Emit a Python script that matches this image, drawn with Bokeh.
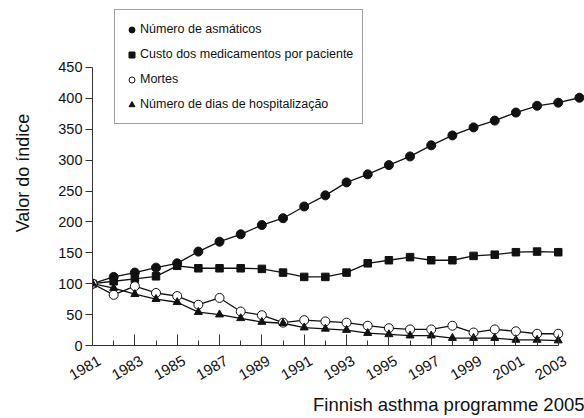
import math
from bokeh.plotting import figure
from bokeh.models import Range1d, FixedTicker, Legend, LegendItem, Title, LinearAxis
from bokeh.embed import file_html
from bokeh.resources import INLINE

# ---- data ----
years = list(range(1981, 2004))
years_asthmatics = list(range(1981, 2005))
asthmatics = [100, 111, 118, 126, 133, 152, 168, 180, 195, 206, 225, 243, 264, 277,
              292, 306, 324, 340, 353, 364, 377, 388, 393, 401]
cost = [100, 104, 108, 112, 129, 125, 125, 125, 124, 118, 111, 111, 118, 133, 138,
        143, 138, 138, 145, 147, 151, 152, 151]
deaths = [100, 82, 96, 85, 80, 66, 77, 55, 49, 37, 41, 39, 37, 32, 28, 26, 26, 32,
          21, 26, 23, 19, 19]
hospital_days = [100, 93, 83, 75, 70, 54, 50, 44, 38, 36, 29, 27, 25, 20, 18, 16, 16,
                 12, 12, 12, 9, 9, 8]
x_major = [1981, 1983, 1985, 1987, 1989, 1991, 1993, 1995, 1997, 1999, 2001, 2003]
x_minor = [1982, 1984, 1986, 1988, 1990, 1992, 1994, 1996, 1998, 2000, 2002]
y_ticks = [0, 50, 100, 150, 200, 250, 300, 350, 400, 450]
labels = ["Número de asmáticos", "Custo dos medicamentos por paciente", "Mortes",
          "Número de dias de hospitalização"]

FONT = "Liberation Sans"
INK = "#111111"
X0, X1 = 1981, 2004.24
LABEL_SHIFT = 0.33   # tick labels sit slightly right of their ticks, as in the source

p = figure(width=584, height=418, output_backend="svg", toolbar_location=None,
           x_range=Range1d(X0, X1), y_range=Range1d(0, 558.4),
           min_border_left=92, min_border_right=0, min_border_top=0,
           min_border_bottom=73)
p.outline_line_color = None
p.grid.visible = False
p.background_fill_color = "white"
p.extra_x_ranges = {"labels": Range1d(X0 - LABEL_SHIFT, X1 - LABEL_SHIFT)}

# x axis: line + inward ticks, no labels
xa = p.xaxis[0]
xa.ticker = FixedTicker(ticks=x_major, minor_ticks=x_minor)
xa.bounds = (1981, 2003)
xa.major_tick_in = 11
xa.major_tick_out = 0
xa.minor_tick_in = 5
xa.minor_tick_out = 0
xa.major_label_standoff = 0
xa.major_label_overrides = {y: "" for y in x_major}
xa.axis_line_color = "#333333"
xa.major_tick_line_color = "#333333"
xa.minor_tick_line_color = "#333333"

# x tick labels (rotated)
xl = LinearAxis(x_range_name="labels", ticker=FixedTicker(ticks=x_major))
xl.axis_line_color = None
xl.major_tick_line_color = None
xl.minor_tick_line_color = None
xl.major_tick_in = 0
xl.major_tick_out = 0
xl.major_label_orientation = math.pi / 6
xl.major_label_standoff = 14
xl.major_label_text_font = FONT
xl.major_label_text_font_size = "15px"
xl.major_label_text_color = INK
p.add_layout(xl, "below")

ya = p.yaxis[0]
ya.ticker = FixedTicker(ticks=y_ticks)
ya.bounds = (0, 450)
ya.major_tick_in = 0
ya.major_tick_out = 7
ya.minor_tick_line_color = None
ya.major_label_standoff = 3
ya.major_label_text_font = FONT
ya.major_label_text_font_size = "14.5px"
ya.major_label_text_color = INK
ya.axis_label = "Valor do índice"
ya.axis_label_text_font = FONT
ya.axis_label_text_font_size = "18px"
ya.axis_label_text_font_style = "normal"
ya.axis_label_text_color = INK
ya.axis_label_standoff = 22
ya.axis_line_color = "#333333"
ya.major_tick_line_color = "#333333"

LW = 1.3
p.line(years_asthmatics, asthmatics, line_color=INK, line_width=LW)
p.line(years, cost, line_color=INK, line_width=LW)
p.line(years, deaths, line_color=INK, line_width=LW)
p.line(years, hospital_days, line_color=INK, line_width=LW)

r1 = p.scatter(years_asthmatics, asthmatics, marker="circle", size=9,
               fill_color=INK, line_color=INK)
r2 = p.scatter(years, cost, marker="square", size=7.5, fill_color=INK, line_color=INK)
r3 = p.scatter(years, deaths, marker="circle", size=9, fill_color="white",
               line_color=INK, line_width=1)
r4 = p.scatter(years, hospital_days, marker="triangle", size=8, fill_color=INK,
               line_color=INK)

legend = Legend(items=[LegendItem(label=labels[0], renderers=[r1]),
                       LegendItem(label=labels[1], renderers=[r2]),
                       LegendItem(label=labels[2], renderers=[r3]),
                       LegendItem(label=labels[3], renderers=[r4])],
                location=(22, 221))
legend.label_text_font = FONT
legend.label_text_font_size = "12.5px"
legend.label_text_color = INK
legend.glyph_width = 15
legend.glyph_height = 15
legend.label_height = 20
legend.label_standoff = 1
legend.spacing = 5
legend.padding = 9
legend.margin = 0
legend.border_line_color = "#444444"
legend.border_line_width = 1
legend.background_fill_color = "white"
legend.background_fill_alpha = 1
p.add_layout(legend, "center")

title = Title(text="Finnish asthma programme 2005", align="right",
              text_font=FONT, text_font_size="18.5px", text_font_style="normal",
              text_color=INK, standoff=8)
p.add_layout(title, "below")

open("out.html", "w").write(file_html(p, INLINE))
